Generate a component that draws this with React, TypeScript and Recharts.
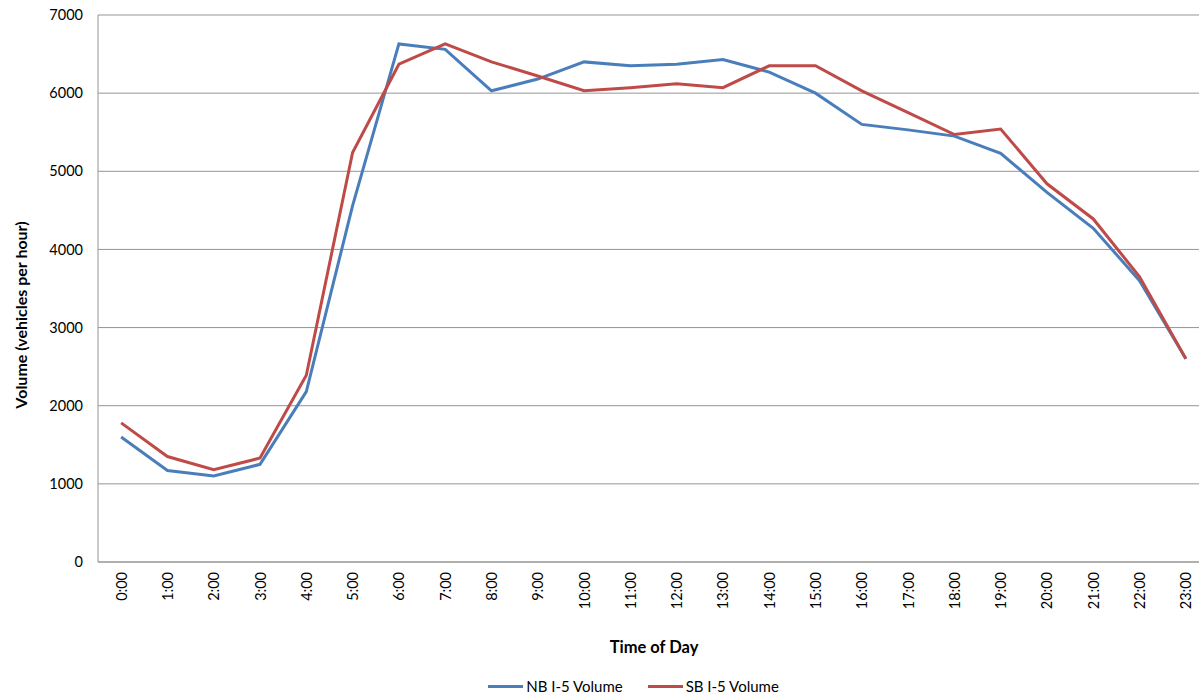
import { LineChart, Line, XAxis, YAxis, CartesianGrid, Legend } from "recharts";

const HOURS = [
  "0:00", "1:00", "2:00", "3:00", "4:00", "5:00", "6:00", "7:00", "8:00", "9:00", "10:00", "11:00",
  "12:00", "13:00", "14:00", "15:00", "16:00", "17:00", "18:00", "19:00", "20:00", "21:00", "22:00", "23:00",
];

const NB_VOLUME = [
  1600, 1170, 1100, 1250, 2180, 4560, 6630, 6560, 6030, 6180, 6400, 6350,
  6370, 6430, 6270, 6000, 5600, 5530, 5450, 5230, 4730, 4270, 3600, 2600,
];

const SB_VOLUME = [
  1780, 1350, 1180, 1330, 2390, 5240, 6370, 6630, 6400, 6220, 6030, 6070,
  6120, 6070, 6350, 6350, 6030, 5750, 5470, 5540, 4840, 4390, 3650, 2600,
];

const Y_TICKS = [0, 1000, 2000, 3000, 4000, 5000, 6000, 7000];

const BLUE = "#4a7ebb";
const RED = "#be4b48";
const FONT = "Lato, 'Open Sans', sans-serif";

const data = HOURS.map((h, i) => ({ time: h, nb: NB_VOLUME[i], sb: SB_VOLUME[i] }));

const HourTick = ({ x, y, payload }: any) => (
  <text
    x={x}
    y={y}
    transform={`rotate(-90, ${x}, ${y})`}
    textAnchor="end"
    dominantBaseline="central"
    fontFamily={FONT}
    fontSize={14.5}
    fill="#000"
  >
    {payload.value}
  </text>
);

const YTitle = () => {
  const cx = 20;
  const cy = 315;
  return (
    <text
      x={cx}
      y={cy}
      transform={`rotate(-90, ${cx}, ${cy})`}
      textAnchor="middle"
      dominantBaseline="central"
      fontFamily={FONT}
      fontWeight="bold"
      fontSize={16}
      fill="#000"
    >
      Volume (vehicles per hour)
    </text>
  );
};

const XTitle = () => (
  <text x={654} y={647} textAnchor="middle" dominantBaseline="central" fontFamily={FONT} fontWeight="bold" fontSize={16.5} fill="#000">
    Time of Day
  </text>
);

// legend drawn as two short line samples, centred under the visible plot
const LegendBox = ({ payload }: any) => (
  <div style={{ display: "flex", justifyContent: "center", gap: 25, height: 20, alignItems: "center", fontFamily: FONT, fontSize: 15, paddingLeft: 58 }}>
    {payload.map((p: any) => (
      <div key={p.value} style={{ display: "flex", alignItems: "center" }}>
        <span style={{ display: "inline-block", width: 35, height: 3, background: p.color, marginRight: 3 }} />
        <span>{p.value}</span>
      </div>
    ))}
  </div>
);

export default function App() {
  return (
    <div style={{ position: "absolute", left: 0, top: 0, width: 1199, height: 696, overflow: "hidden", background: "#fff" }}>
      <LineChart width={1212} height={696} data={data} margin={{ top: 15, right: 3, left: 0, bottom: 0 }}>
        <CartesianGrid vertical={false} stroke="#959595" strokeWidth={1} />
        <XAxis
          dataKey="time"
          scale="band"
          interval={0}
          tick={<HourTick />}
          tickLine={false}
          tickSize={0}
          tickMargin={10}
          stroke="#959595"
          height={114}
          label={<XTitle />}
        />
        <YAxis
          domain={[0, 7000]}
          ticks={Y_TICKS}
          width={98}
          tickLine={false}
          tickSize={0}
          tickMargin={15}
          stroke="#959595"
          tick={{ fill: "#000", fontFamily: FONT, fontSize: 14.5 }}
          label={<YTitle />}
        />
        <Legend verticalAlign="bottom" height={20} content={<LegendBox />} />
        <Line dataKey="nb" name="NB I-5 Volume" stroke={BLUE} strokeWidth={3} dot={false} isAnimationActive={false} />
        <Line dataKey="sb" name="SB I-5 Volume" stroke={RED} strokeWidth={3} dot={false} isAnimationActive={false} />
      </LineChart>
    </div>
  );
}
